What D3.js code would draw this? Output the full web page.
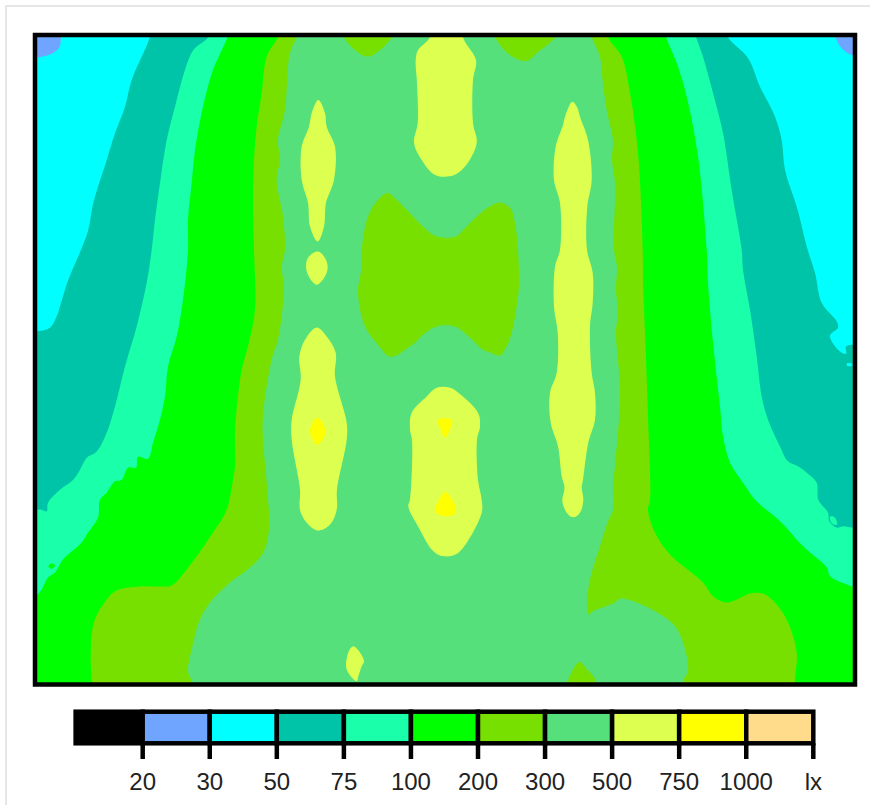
<!DOCTYPE html>
<html>
<head>
<meta charset="utf-8">
<script src="https://cdn.jsdelivr.net/npm/d3@7"></script>
<style>
html,body{margin:0;padding:0;background:#fff;overflow:hidden}
svg{display:block}
text{font-family:"Liberation Sans",Arial,sans-serif}
</style>
</head>
<body>
<svg id="chart" width="870" height="805"></svg>
<script>
// Room extent in metres
const roomWidth = 8.2, roomDepth = 6.5;

// Legend
const legendTicks = ["20","30","50","75","100","200","300","500","750","1000","lx"];
const bandColors = ["#000000","#6fa5ff","#00ffff","#00c4a8","#19ffaa","#00ff00","#78e000","#55e07c","#dcff50","#ffff00","#ffdc8c"];

// Isolux outlines in room coordinates [x m, y m]
const iso30TopLeft = [[-0.2,-0.2],[0.27,-0.2],[0.26,0.0],[0.245,0.12],[0.18,0.18],[0.1,0.21],[-0.2,0.22]];
const iso30TopRight = [[8.0,-0.2],[8.007,0.02],[8.067,0.133],[8.17,0.2],[8.4,0.22],[8.4,-0.2]];

const iso50 = [[1.15,0.02],[0.967,0.45],[0.9,0.717],[0.8,0.983],[0.717,1.25],[0.583,1.68],[0.533,1.95],[0.46,2.15],[0.333,2.45],[0.25,2.717],[0.223,2.8],[0.15,2.93],[0.02,2.967],[-0.2,3.0],[-0.2,6.8],[8.4,6.8],[8.4,3.1],[8.17,3.1],[8.11,3.117],[8.11,3.19],[8.05,3.167],[7.95,3.01],[8.03,2.93],[8.017,2.867],[7.867,2.68],[7.8,2.38],[7.727,2.15],[7.617,1.717],[7.5,1.35],[7.467,1.05],[7.4,0.817],[7.25,0.517],[7.13,0.23],[6.927,0.02],[6.85,-0.2],[1.2,-0.2]];

const iso75 = [[1.733,0.02],[1.583,0.15],[1.5,0.35],[1.4,0.717],[1.317,1.05],[1.25,1.48],[1.2,1.85],[1.167,2.15],[1.117,2.48],[1.017,2.917],[0.9,3.317],[0.8,3.717],[0.717,3.98],[0.617,4.167],[0.517,4.23],[0.45,4.35],[0.383,4.45],[0.25,4.55],[0.13,4.68],[0.117,4.767],[0.067,4.75],[0.02,4.75],[-0.2,4.75],[-0.2,6.8],[8.4,6.8],[8.4,4.93],[8.17,4.93],[8.083,4.917],[8.017,4.93],[7.943,4.867],[7.93,4.78],[7.833,4.65],[7.817,4.48],[7.717,4.38],[7.63,4.317],[7.53,4.267],[7.45,4.117],[7.33,3.85],[7.267,3.617],[7.217,3.217],[7.15,2.75],[7.08,2.35],[7.067,2.15],[6.967,1.55],[6.88,0.98],[6.78,0.58],[6.68,0.217],[6.61,0.02],[6.55,-0.2],[1.8,-0.2]];

const iso100 = [[1.927,0.02],[1.78,0.35],[1.68,0.717],[1.6,1.15],[1.567,1.48],[1.53,1.85],[1.53,2.15],[1.48,2.65],[1.417,3.017],[1.33,3.317],[1.3,3.617],[1.25,3.85],[1.18,4.08],[1.13,4.24],[1.03,4.22],[1.01,4.33],[0.93,4.33],[0.867,4.45],[0.8,4.467],[0.717,4.58],[0.65,4.65],[0.63,4.83],[0.53,4.98],[0.467,5.08],[0.28,5.25],[0.2,5.38],[0.13,5.43],[0.067,5.55],[0.02,5.6],[-0.2,5.62],[-0.2,6.8],[8.4,6.8],[8.4,5.52],[8.17,5.517],[8.117,5.5],[7.95,5.417],[7.917,5.33],[7.68,5.117],[7.45,4.867],[7.2,4.65],[7.08,4.48],[6.95,4.28],[6.88,4.017],[6.85,3.717],[6.78,3.08],[6.73,2.48],[6.717,2.15],[6.63,1.217],[6.517,0.617],[6.417,0.28],[6.31,0.02],[6.25,-0.2],[2.0,-0.2]];

const iso200 = [[2.43,0.02],[2.317,0.217],[2.267,0.58],[2.217,0.917],[2.19,1.25],[2.18,1.65],[2.19,2.15],[2.2,2.75],[2.13,3.117],[2.067,3.35],[2.01,3.817],[2.0,3.98],[2.0,4.317],[1.98,4.45],[1.917,4.75],[1.78,4.98],[1.517,5.35],[1.367,5.51],[1.25,5.52],[1.05,5.52],[0.817,5.56],[0.717,5.65],[0.59,5.88],[0.557,6.217],[0.567,6.467],[0.57,6.8],[7.6,6.8],[7.6,6.467],[7.617,6.18],[7.53,5.88],[7.417,5.7],[7.28,5.59],[7.15,5.59],[7.08,5.62],[6.917,5.68],[6.78,5.617],[6.68,5.48],[6.35,5.2],[6.2,4.98],[6.13,4.75],[6.15,4.65],[6.13,3.817],[6.1,2.98],[6.08,2.48],[6.077,2.15],[6.03,1.18],[5.95,0.58],[5.867,0.217],[5.73,0.02],[5.7,-0.2],[2.5,-0.2]];

const iso300 = [[2.617,0.02],[2.55,0.18],[2.53,0.317],[2.5,0.75],[2.43,1.05],[2.45,1.25],[2.417,1.45],[2.48,1.817],[2.5,2.15],[2.467,2.317],[2.49,2.517],[2.467,2.817],[2.43,3.05],[2.367,3.25],[2.28,3.817],[2.28,4.05],[2.317,4.48],[2.34,4.95],[2.283,5.18],[2.15,5.33],[1.95,5.48],[1.75,5.68],[1.65,5.85],[1.567,6.15],[1.53,6.367],[1.567,6.467],[1.6,6.8],[6.5,6.8],[6.48,6.467],[6.53,6.367],[6.48,6.08],[6.367,5.88],[5.867,5.64],[5.78,5.69],[5.58,5.767],[5.54,5.8],[5.52,5.68],[5.55,5.45],[5.65,5.117],[5.73,4.867],[5.78,4.75],[5.78,4.48],[5.8,4.317],[5.85,3.58],[5.81,2.98],[5.83,2.78],[5.81,2.55],[5.82,2.317],[5.79,2.15],[5.8,1.48],[5.77,1.25],[5.78,1.05],[5.717,0.75],[5.667,0.38],[5.65,0.217],[5.567,0.02],[5.5,-0.2],[2.7,-0.2]];

// Areas below 300 lx inside the 300 lx zone
const dipTopLeft = [[3.09,0.02],[3.2,0.15],[3.323,0.217],[3.43,0.167],[3.567,0.02],[3.6,-0.2],[3.05,-0.2]];
const dipTopRight = [[4.6,0.02],[4.75,0.2],[4.917,0.26],[5.017,0.18],[5.2,0.02],[5.25,-0.2],[4.55,-0.2]];
const dipCentre = [[3.267,2.15],[3.33,1.817],[3.43,1.65],[3.527,1.58],[3.617,1.65],[3.78,1.817],[3.95,1.98],[4.03,2.02],[4.2,2.02],[4.317,1.917],[4.417,1.817],[4.55,1.717],[4.65,1.677],[4.75,1.73],[4.8,1.88],[4.83,2.15],[4.84,2.517],[4.817,2.717],[4.767,2.98],[4.717,3.117],[4.65,3.207],[4.55,3.177],[4.48,3.15],[4.35,3.03],[4.2,2.92],[4.017,2.917],[3.88,3.0],[3.8,3.08],[3.7,3.15],[3.63,3.2],[3.54,3.217],[3.43,3.1],[3.3,2.917],[3.23,2.58],[3.267,2.317]];
const dipBottom = [[5.33,6.7],[5.33,6.467],[5.37,6.37],[5.42,6.29],[5.46,6.28],[5.52,6.35],[5.57,6.4],[5.61,6.47],[5.62,6.7]];

// Peaks above 500 lx
const peakTopCentre = [[3.95,0.02],[3.83,0.15],[3.807,0.25],[3.82,0.48],[3.827,0.88],[3.79,1.08],[3.867,1.25],[4.0,1.4],[4.18,1.407],[4.3,1.317],[4.417,1.08],[4.38,0.88],[4.38,0.45],[4.41,0.25],[4.28,0.02],[4.3,-0.2],[3.95,-0.2]];
const peakLeftUpper = [[2.833,0.65],[2.767,0.78],[2.74,0.917],[2.667,1.117],[2.667,1.45],[2.73,1.68],[2.75,1.917],[2.827,2.067],[2.89,1.917],[2.91,1.68],[2.99,1.45],[3.0,1.117],[2.917,0.917],[2.9,0.78]];
const peakLeftSmall = [[2.833,2.167],[2.73,2.23],[2.717,2.367],[2.817,2.5],[2.917,2.38],[2.917,2.267]];
const peakLeftLower = [[2.817,2.927],[2.7,3.05],[2.643,3.217],[2.657,3.45],[2.567,3.85],[2.567,4.05],[2.65,4.55],[2.65,4.75],[2.717,4.88],[2.833,4.96],[2.95,4.9],[3.017,4.75],[3.02,4.55],[3.117,4.05],[3.117,3.88],[3.0,3.417],[3.007,3.18],[2.917,3.017]];
const peakCentreLower = [[4.017,3.53],[3.917,3.617],[3.767,3.78],[3.75,3.95],[3.77,4.05],[3.75,4.65],[3.733,4.717],[3.83,4.917],[3.967,5.15],[4.05,5.21],[4.18,5.21],[4.267,5.15],[4.467,4.78],[4.467,4.65],[4.43,4.45],[4.42,4.05],[4.45,3.917],[4.43,3.78],[4.217,3.567],[4.15,3.53]];
const peakRight = [[5.373,0.667],[5.3,0.817],[5.28,0.9],[5.207,1.117],[5.19,1.45],[5.25,1.68],[5.25,2.15],[5.2,2.317],[5.19,2.717],[5.227,2.98],[5.217,3.38],[5.15,3.58],[5.157,3.88],[5.23,4.117],[5.267,4.417],[5.295,4.53],[5.273,4.667],[5.317,4.78],[5.383,4.827],[5.45,4.78],[5.483,4.65],[5.467,4.53],[5.48,4.45],[5.533,4.08],[5.6,3.85],[5.6,3.58],[5.567,3.38],[5.55,2.917],[5.577,2.68],[5.577,2.38],[5.52,2.15],[5.523,1.717],[5.567,1.45],[5.53,1.05],[5.45,0.817],[5.42,0.72]];
const peakBottom = [[3.183,6.117],[3.133,6.18],[3.117,6.35],[3.217,6.467],[3.233,6.417],[3.267,6.317],[3.29,6.27],[3.25,6.18]];

// Peaks above 750 lx
const maxLeft = [[2.823,3.827],[2.75,3.967],[2.823,4.1],[2.907,3.967]];
const maxCentreUpper = [[4.033,3.85],[4.167,3.85],[4.15,3.95],[4.1,4.027],[4.057,3.95]];
const maxCentreLower = [[4.1,4.573],[4.033,4.667],[4.0,4.767],[4.1,4.817],[4.207,4.78],[4.183,4.667]];

// Small specks along the noisy outer contours
const speckGreenLeft = [[0.133,5.317],[0.167,5.29],[0.2,5.31],[0.167,5.343]];
const speckAquaRight = [[7.95,4.82],[8.0,4.83],[8.02,4.9],[7.97,4.89]];
const speckCyanRight = [[8.12,3.285],[8.17,3.29],[8.17,3.31],[8.12,3.31]];

// Painting order, low to high illuminance; the index picks a legend colour
const layers = [
  {idx:1, shapes:[iso30TopLeft, iso30TopRight]},
  {idx:3, shapes:[iso50]},
  {idx:2, shapes:[speckCyanRight]},
  {idx:4, shapes:[iso75, speckAquaRight]},
  {idx:5, shapes:[iso100]},
  {idx:5, shapes:[speckGreenLeft]},
  {idx:6, shapes:[iso200]},
  {idx:7, shapes:[iso300]},
  {idx:6, shapes:[dipTopLeft, dipTopRight, dipCentre, dipBottom]},
  {idx:8, shapes:[peakTopCentre, peakLeftUpper, peakLeftSmall, peakLeftLower, peakCentreLower, peakRight, peakBottom]},
  {idx:9, shapes:[maxLeft, maxCentreUpper, maxCentreLower]}
];

const svg = d3.select("#chart");

// Card outline
svg.append("rect").attr("x",6).attr("y",6).attr("width",900).attr("height",900)
  .attr("fill","#fff").attr("stroke","#e6e6e6").attr("stroke-width",2);

const x = d3.scaleLinear().domain([0,roomWidth]).range([35,855]);
const y = d3.scaleLinear().domain([0,roomDepth]).range([35,684.5]);

svg.append("clipPath").attr("id","room").append("rect")
  .attr("x",x(0)).attr("y",y(0))
  .attr("width",x(roomWidth)-x(0)).attr("height",y(roomDepth)-y(0));

const outline = d3.line().x(d=>x(d[0])).y(d=>y(d[1])).curve(d3.curveCatmullRomClosed.alpha(0.5));

const plot = svg.append("g").attr("clip-path","url(#room)");
plot.append("rect").attr("x",x(0)).attr("y",y(0))
  .attr("width",x(roomWidth)-x(0)).attr("height",y(roomDepth)-y(0))
  .attr("fill",bandColors[2]);
layers.forEach(layer=>{
  plot.selectAll(null).data(layer.shapes).join("path")
    .attr("d",outline).attr("fill",bandColors[layer.idx]);
});

svg.append("rect").attr("x",x(0)).attr("y",y(0))
  .attr("width",x(roomWidth)-x(0)).attr("height",y(roomDepth)-y(0))
  .attr("fill","none").attr("stroke","#000").attr("stroke-width",4.5);

// Legend
const lx = d3.scalePoint().domain(legendTicks).range([142.7,813.3]);
const step = lx.step();
const legendTop = 711.7, legendBottom = 743.3;
const cellLeft = i => i===0 ? lx(legendTicks[0])-step : lx(legendTicks[i-1]);
const legend = svg.append("g");
legend.selectAll("rect").data(bandColors).join("rect")
  .attr("x",(d,i)=>cellLeft(i)).attr("y",legendTop)
  .attr("width",step).attr("height",legendBottom-legendTop)
  .attr("fill",d=>d).attr("stroke","#000").attr("stroke-width",4.5);

const axis = d3.axisBottom(lx).tickSize(15.7).tickPadding(13.5).offset(0);
const axisG = svg.append("g").attr("transform",`translate(0,${legendBottom})`).call(axis);
axisG.select(".domain").remove();
axisG.selectAll("line").attr("stroke","#000").attr("stroke-width",4.5);
axisG.selectAll("text").attr("fill","#222").attr("font-size",24)
  .style("font-family",'"Liberation Sans",Arial,sans-serif');
</script>
</body>
</html>
